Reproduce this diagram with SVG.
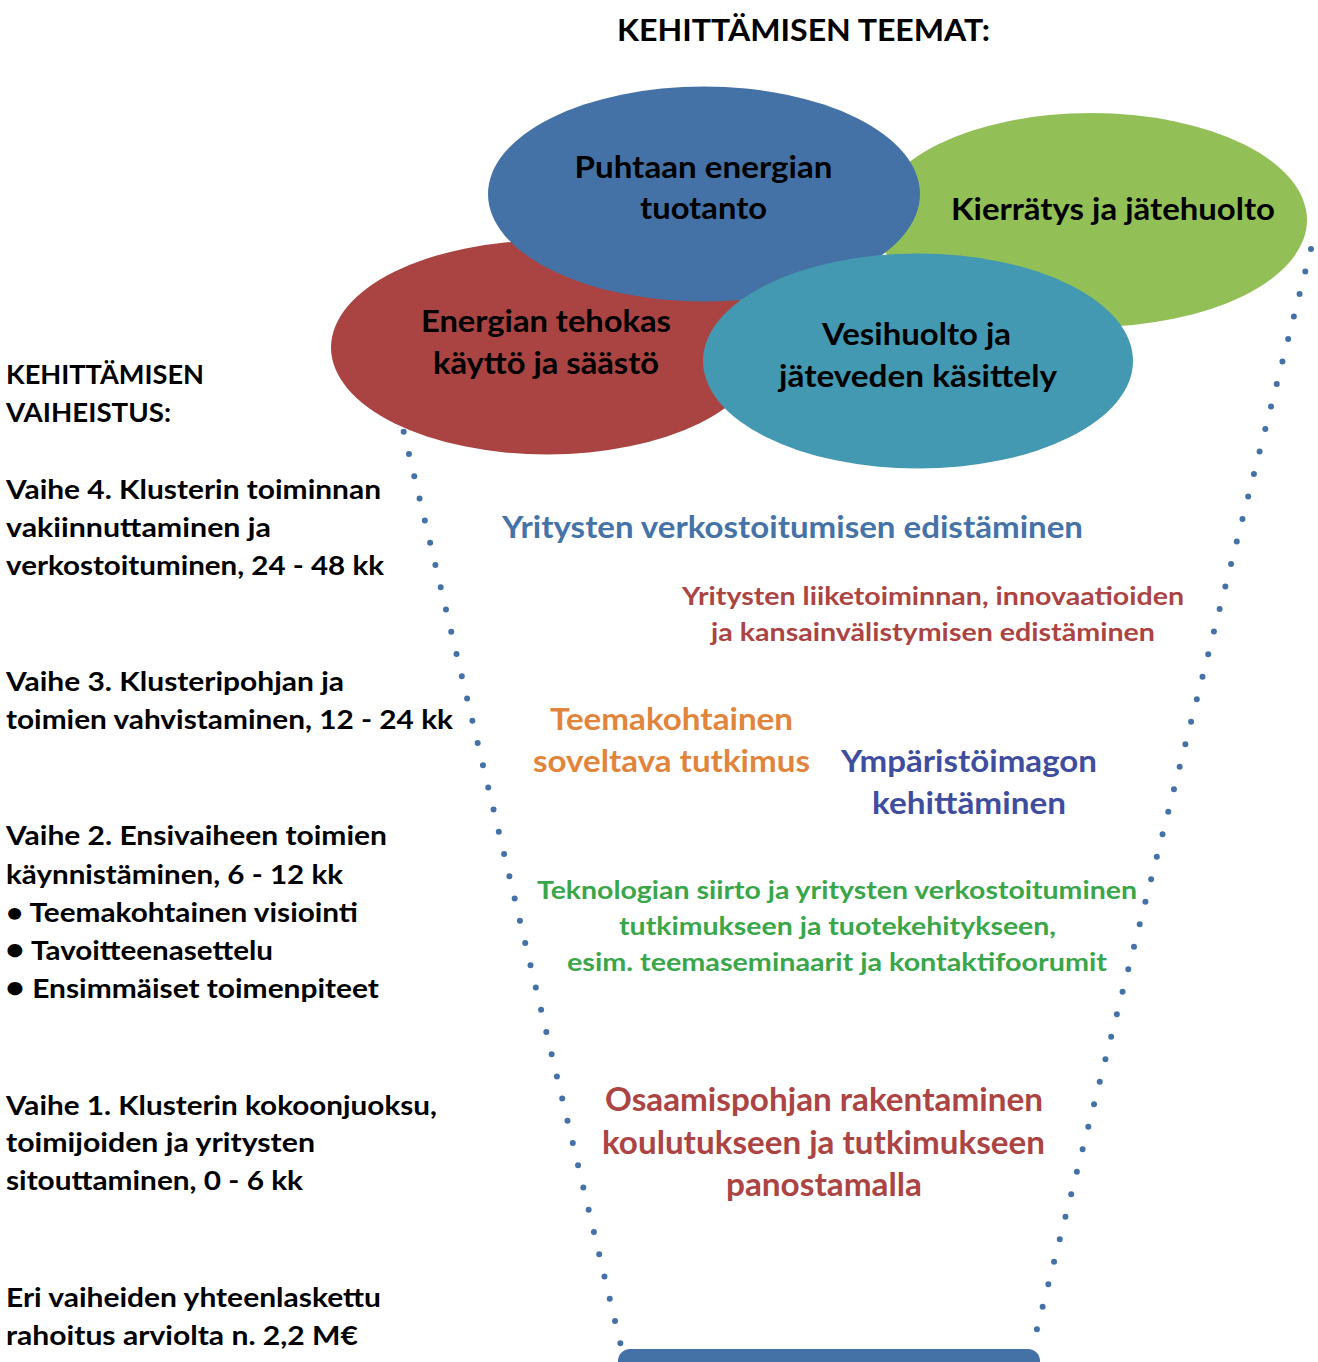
<svg xmlns="http://www.w3.org/2000/svg" width="1318" height="1362" viewBox="0 0 1318 1362">
<style>
text{font-family:Lato,"Open Sans","Liberation Sans",sans-serif;font-weight:700}
.t{font-size:27px;fill:#000}
.e{font-size:29.5px;fill:#000}
.h{font-size:29.5px;fill:#000}
.blue{font-size:29.5px;fill:#4573a7}
.red{font-size:24.5px;fill:#ab4443}
.org{font-size:29.5px;fill:#e2853c}
.pur{font-size:29.5px;fill:#3f4d9f}
.grn{font-size:24.5px;fill:#3aa64a}
.big{font-size:31.5px;fill:#ab4443}
.dots{stroke:#4472a6;stroke-width:6;stroke-linecap:round;fill:none}
.bl{font-size:31px}
</style>
<rect width="1318" height="1362" fill="#fff"/>

<g id="title"><text class="h" x="617" y="41" textLength="373" lengthAdjust="spacingAndGlyphs">KEHITTÄMISEN TEEMAT:</text></g>

<g id="connectors">
<line class="dots" x1="403.7" y1="431.7" x2="620.6" y2="1344.3" stroke-dasharray="0 22.85"/>
<line class="dots" x1="1311" y1="249" x2="1036.5" y2="1331" stroke-dasharray="0 23.22"/>
</g>

<g id="node-energian-tehokas">
<ellipse cx="547" cy="347.5" rx="216" ry="107" fill="#a94442"/>
<text class="e" x="421" y="332" textLength="250" lengthAdjust="spacingAndGlyphs">Energian tehokas</text>
<text class="e" x="433" y="374" textLength="226" lengthAdjust="spacingAndGlyphs">käyttö ja säästö</text>
</g>
<g id="node-kierratys">
<ellipse cx="1091" cy="220" rx="216" ry="107" fill="#92c057"/>
<text class="e" x="951" y="220" textLength="324" lengthAdjust="spacingAndGlyphs">Kierrätys ja jätehuolto</text>
</g>
<g id="node-puhtaan-energian">
<ellipse cx="704" cy="194" rx="216" ry="107.5" fill="#4472a6"/>
<text class="e" x="574.5" y="177.5" textLength="258" lengthAdjust="spacingAndGlyphs">Puhtaan energian</text>
<text class="e" x="640" y="218.5" textLength="127" lengthAdjust="spacingAndGlyphs">tuotanto</text>
</g>
<g id="node-vesihuolto">
<ellipse cx="918" cy="361" rx="215" ry="107.5" fill="#4399b1"/>
<text class="e" x="822" y="345" textLength="189" lengthAdjust="spacingAndGlyphs">Vesihuolto ja</text>
<text class="e" x="779" y="386.5" textLength="278" lengthAdjust="spacingAndGlyphs">jäteveden käsittely</text>
</g>

<g id="bottom-bar"><rect x="618" y="1349" width="422" height="30" rx="12" fill="#4472a6"/></g>

<g id="phases">
<text class="t" x="6" y="384" textLength="198" lengthAdjust="spacingAndGlyphs">KEHITTÄMISEN</text>
<text class="t" x="6" y="421.5" textLength="165" lengthAdjust="spacingAndGlyphs">VAIHEISTUS:</text>
<text class="t" x="6" y="498.5" textLength="375" lengthAdjust="spacingAndGlyphs">Vaihe 4. Klusterin toiminnan</text>
<text class="t" x="6" y="537" textLength="265" lengthAdjust="spacingAndGlyphs">vakiinnuttaminen ja</text>
<text class="t" x="6" y="575" textLength="378" lengthAdjust="spacingAndGlyphs">verkostoituminen, 24 - 48 kk</text>
<text class="t" x="6" y="690.5" textLength="338" lengthAdjust="spacingAndGlyphs">Vaihe 3. Klusteripohjan ja</text>
<text class="t" x="6" y="729" textLength="447" lengthAdjust="spacingAndGlyphs">toimien vahvistaminen, 12 - 24 kk</text>
<text class="t" x="6" y="845" textLength="381" lengthAdjust="spacingAndGlyphs">Vaihe 2. Ensivaiheen toimien</text>
<text class="t" x="6" y="883.5" textLength="337" lengthAdjust="spacingAndGlyphs">käynnistäminen, 6 - 12 kk</text>
<text class="t" x="6" y="921.5" textLength="352" lengthAdjust="spacingAndGlyphs">• Teemakohtainen visiointi</text>
<text class="t" x="5" y="960" textLength="268" lengthAdjust="spacingAndGlyphs"><tspan class="bl">•</tspan> Tavoitteenasettelu</text>
<text class="t" x="5" y="998" textLength="374" lengthAdjust="spacingAndGlyphs"><tspan class="bl">•</tspan> Ensimmäiset toimenpiteet</text>
<text class="t" x="6" y="1115" textLength="431" lengthAdjust="spacingAndGlyphs">Vaihe 1. Klusterin kokoonjuoksu,</text>
<text class="t" x="6" y="1152" textLength="309" lengthAdjust="spacingAndGlyphs">toimijoiden ja yritysten</text>
<text class="t" x="6" y="1190" textLength="297" lengthAdjust="spacingAndGlyphs">sitouttaminen, 0 - 6 kk</text>
<text class="t" x="6" y="1306.5" textLength="375" lengthAdjust="spacingAndGlyphs">Eri vaiheiden yhteenlaskettu</text>
<text class="t" x="6" y="1345" textLength="352" lengthAdjust="spacingAndGlyphs">rahoitus arviolta n. 2,2 M€</text>
</g>

<g id="activity-verkostoituminen"><text class="blue" x="502" y="538" textLength="581" lengthAdjust="spacingAndGlyphs">Yritysten verkostoitumisen edistäminen</text></g>
<g id="activity-liiketoiminta">
<text class="red" x="682" y="605" textLength="502" lengthAdjust="spacingAndGlyphs">Yritysten liiketoiminnan, innovaatioiden</text>
<text class="red" x="711" y="641" textLength="444" lengthAdjust="spacingAndGlyphs">ja kansainvälistymisen edistäminen</text>
</g>
<g id="activity-tutkimus">
<text class="org" x="550" y="730" textLength="243" lengthAdjust="spacingAndGlyphs">Teemakohtainen</text>
<text class="org" x="533" y="772" textLength="277" lengthAdjust="spacingAndGlyphs">soveltava tutkimus</text>
</g>
<g id="activity-ymparistoimago">
<text class="pur" x="841" y="772" textLength="256" lengthAdjust="spacingAndGlyphs">Ympäristöimagon</text>
<text class="pur" x="872" y="814" textLength="194" lengthAdjust="spacingAndGlyphs">kehittäminen</text>
</g>
<g id="activity-teknologia">
<text class="grn" x="537" y="899" textLength="600" lengthAdjust="spacingAndGlyphs">Teknologian siirto ja yritysten verkostoituminen</text>
<text class="grn" x="619" y="935" textLength="437" lengthAdjust="spacingAndGlyphs">tutkimukseen ja tuotekehitykseen,</text>
<text class="grn" x="567" y="971" textLength="540" lengthAdjust="spacingAndGlyphs">esim. teemaseminaarit ja kontaktifoorumit</text>
</g>
<g id="activity-osaamispohja">
<text class="big" x="605" y="1111" textLength="438" lengthAdjust="spacingAndGlyphs">Osaamispohjan rakentaminen</text>
<text class="big" x="602" y="1154" textLength="443" lengthAdjust="spacingAndGlyphs">koulutukseen ja tutkimukseen</text>
<text class="big" x="726" y="1196" textLength="196" lengthAdjust="spacingAndGlyphs">panostamalla</text>
</g>
</svg>
